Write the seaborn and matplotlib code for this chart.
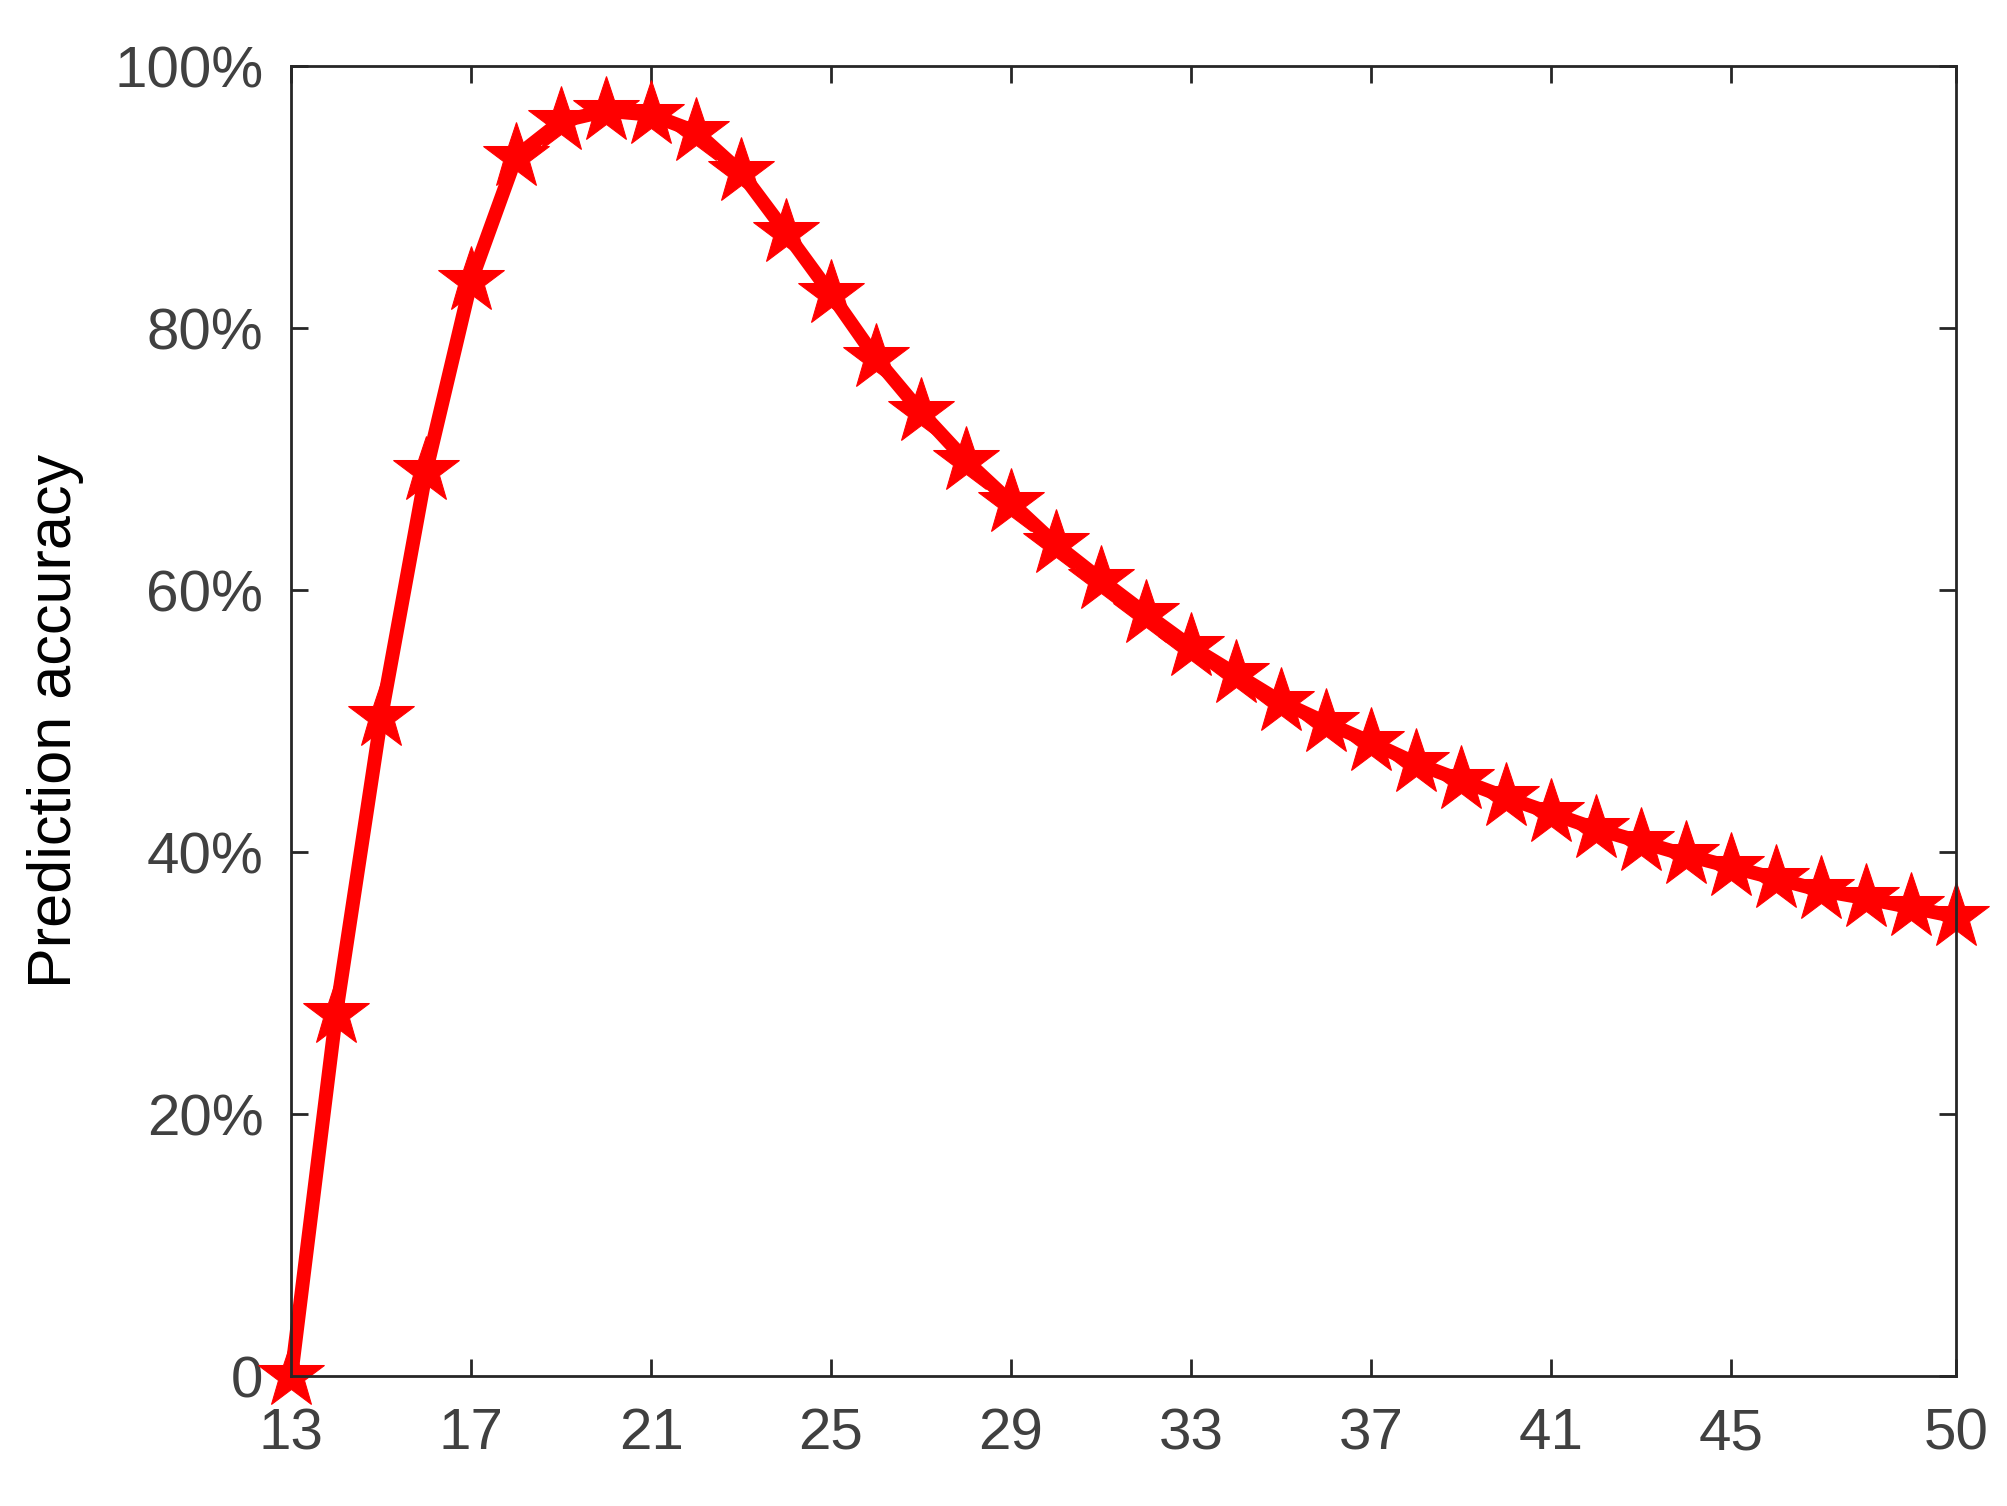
import matplotlib
matplotlib.use("Agg")
import matplotlib.pyplot as plt
import seaborn as sns
from matplotlib.ticker import FuncFormatter

# Data
x_vals = list(range(13, 51))
accuracy = [0, 27.7, 50.3, 69.1, 83.6, 93.1, 95.8, 96.6, 96.3, 95.0,
            91.9, 87.3, 82.6, 77.7, 73.6, 69.9, 66.7, 63.5, 60.8, 58.2,
            55.7, 53.6, 51.5, 49.9, 48.4, 46.8, 45.5, 44.2, 43.0, 41.8,
            40.8, 39.8, 38.9, 38.0, 37.1, 36.5, 35.8, 35.1]
x_ticks = [13, 17, 21, 25, 29, 33, 37, 41, 45, 50]
y_ticks = [0, 20, 40, 60, 80, 100]

sns.set_style("ticks")
plt.rcParams['font.family'] = ['Liberation Sans', 'DejaVu Sans']

fig = plt.figure(figsize=(20.08, 15.06), dpi=100)
ax = fig.add_axes([0.145, 0.086, 0.829, 0.87])

sns.lineplot(x=x_vals, y=accuracy, ax=ax, color='#ff0000', linewidth=10,
             marker='*', markersize=50, markeredgecolor='#ff0000', clip_on=False)

ax.set_xlim(13, 50)
ax.set_ylim(0, 100)
ax.set_xticks(x_ticks)
ax.set_yticks(y_ticks)
ax.yaxis.set_major_formatter(FuncFormatter(lambda v, p: '0' if v == 0 else f'{v:.0f}%'))
ax.set_ylabel('Prediction accuracy', fontsize=44, color='#000000', labelpad=22)
ax.tick_params(axis='both', direction='in', length=12, width=2, labelsize=42,
               labelcolor='#404040', top=True, right=True)
ax.tick_params(axis='x', pad=22)
ax.tick_params(axis='y', pad=20)
for s in ax.spines.values():
    s.set_linewidth(2)
    s.set_color('#262626')

fig.savefig('out.png', dpi=100)
